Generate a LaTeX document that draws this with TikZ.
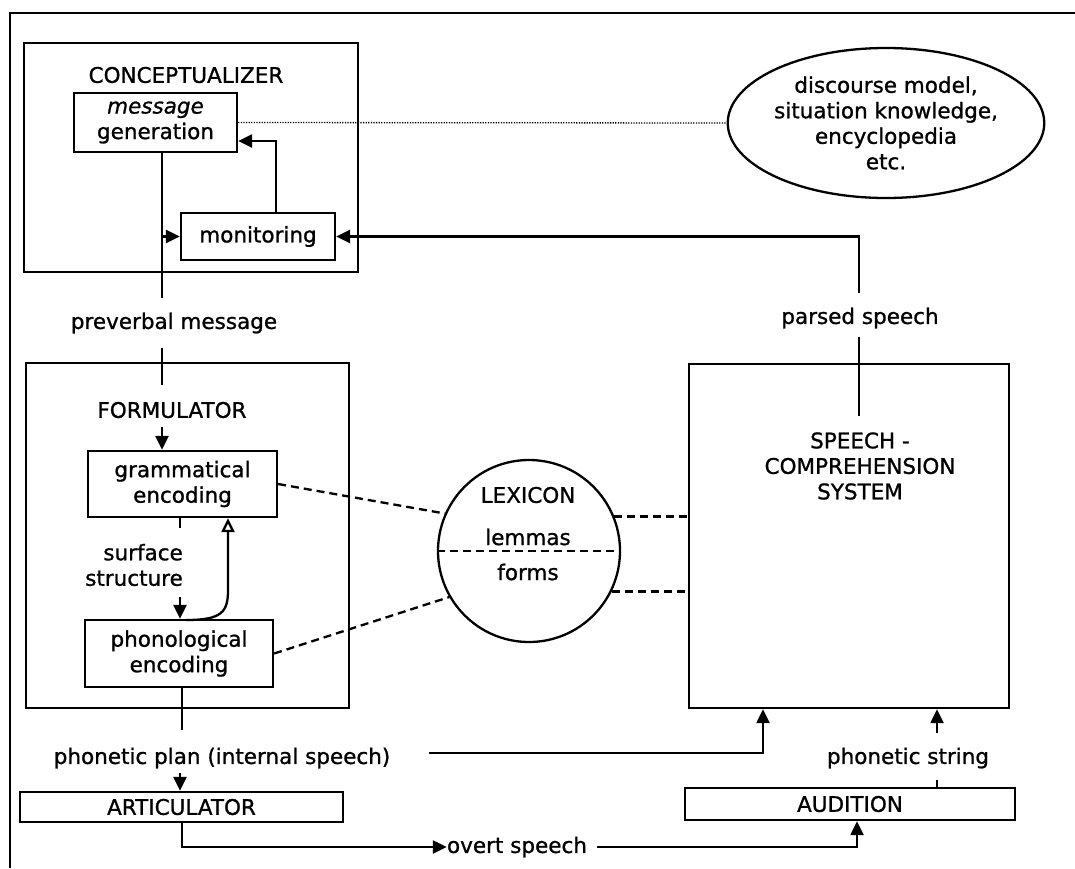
\documentclass[tikz,border=0pt]{standalone}
\usepackage{fontspec}
\setmainfont[FakeBold=1]{DejaVu Sans}
\usetikzlibrary{arrows.meta,shapes.geometric}
\begin{document}
\begin{tikzpicture}[x=1pt,y=-1pt,
  every node/.style={font=\fontsize{21.5}{25.5}\selectfont},
  box/.style={draw,line width=2.3pt,inner sep=0pt,align=center},
  lbl/.style={inner sep=0pt,align=center},
  ln/.style={line width=2.3pt},
  arr/.style={line width=2.3pt,-{Triangle[length=14pt,width=13pt]}},
  oarr/.style={line width=2.3pt,-{Triangle[open,length=14pt,width=13pt]}},
  dsh/.style={line width=2.3pt,dash pattern=on 8pt off 5pt},
  dot/.style={line width=1.3pt,dash pattern=on 1.3pt off 1.3pt}]
\useasboundingbox (0,0) rectangle (1075,868);
% outer frame (top and left visible)
\coordinate (ftr) at (1075,13);
\coordinate (ftl) at (10,13);
\coordinate (fbl) at (10,868);
\draw[line width=2.6pt] (ftr) -- (ftl) -- (fbl);

% conceptualizer
\node[box,minimum width=334pt,minimum height=229pt] (conc) at (191,157.5) {};
\node[lbl] (concl) at (186,75) {CONCEPTUALIZER};
\node[box,minimum width=163pt,minimum height=59pt] (msg) at (155.5,122.5) {\textit{message}\\generation};
\node[box,minimum width=154pt,minimum height=47pt] (mon) at (258,236.5) {monitoring};
\node[draw,ellipse,line width=2.3pt,inner sep=0pt,align=center,minimum width=276pt,minimum height=150pt] (ell) at (886,123) {discourse model,\\situation knowledge,\\encyclopedia\\etc.};
\draw[dot] (msg.east) -- (ell.west);
\coordinate (m1) at (276,141);
\draw[arr] (mon.north -| m1) -- (m1) -- (msg.east |- m1);
\coordinate (pv1) at (162,298);
\coordinate (br1) at (162,236.5);
\draw[ln] (msg.south -| pv1) -- (pv1);
\draw[arr] (br1) -- (mon.west);
\node[lbl] (pvl) at (174,323) {preverbal message};

% formulator
\node[box,minimum width=323pt,minimum height=345pt] (form) at (187.5,535.5) {};
\node[lbl] (forml) at (172,410) {FORMULATOR};
\coordinate (pv2) at (162,348);
\coordinate (pv3) at (162,385);
\draw[ln] (pv2) -- (pv3);
\node[box,minimum width=189pt,minimum height=66pt] (gram) at (182.5,484) {grammatical\\encoding};
\node[box,minimum width=188pt,minimum height=67pt] (phon) at (179,653.5) {phonological\\encoding};
\coordinate (fa) at (162,427);
\draw[arr] (fa) -- (gram.north -| fa);
\coordinate (ss1) at (180,528);
\draw[ln] (gram.south -| ss1) -- (ss1);
\node[lbl,anchor=east,align=right] (ssl) at (183,565) {surface\\structure};
\coordinate (ss2) at (180,597);
\draw[arr] (ss2) -- (phon.north -| ss2);
\coordinate (cv0) at (186,620);
\coordinate (cv1) at (228,590);
\draw[oarr] (cv0) .. controls (222,620) and (228,612) .. (cv1) -- (gram.south -| cv1);
\coordinate (pp1) at (182,730);
\draw[ln] (phon.south -| pp1) -- (pp1);
\node[lbl] (ppl) at (222,758) {phonetic plan (internal speech)};

% articulator
\node[box,minimum width=323pt,minimum height=30pt] (art) at (181.5,807) {ARTICULATOR};
\coordinate (pp2) at (180,773);
\draw[arr] (pp2) -- (art.north -| pp2);
\node[lbl] (ovl) at (517,847) {overt speech};
\coordinate (ov1) at (182,847);
\draw[arr] (art.south -| ov1) -- (ov1) -- (ovl.west);

% audition
\node[box,minimum width=330pt,minimum height=32pt] (aud) at (850,804) {AUDITION};
\coordinate (ov2) at (857,847);
\coordinate (ov0) at (597,847);
\draw[arr] (ov0) -- (ov2) -- (aud.south -| ov2);

% speech comprehension system
\node[box,minimum width=320pt,minimum height=344pt] (scs) at (849,536) {};
\node[lbl] (scsl) at (860,466) {SPEECH -\\COMPREHENSION\\SYSTEM};
\coordinate (ps1) at (937,780);
\coordinate (ps2) at (937,733);
\draw[ln] (aud.north -| ps1) -- (ps1);
\node[lbl] (psl) at (908,758) {phonetic string};
\draw[arr] (ps2) -- (scs.south -| ps2);
\coordinate (pl1) at (429,753);
\coordinate (pl2) at (763,753);
\draw[arr] (pl1) -- (pl2) -- (scs.south -| pl2);

% parsed speech feedback
\coordinate (pa1) at (859,416);
\coordinate (pa2) at (859,337);
\coordinate (pa3) at (859,293);
\coordinate (pa4) at (859,236.5);
\draw[ln] (pa1) -- (pa2);
\node[lbl] (pal) at (860,318) {parsed speech};
\draw[arr] (pa3) -- (pa4) -- (mon.east);

% lexicon
\node[draw,circle,line width=2.3pt,inner sep=0pt,minimum size=182pt] (lex) at (529,551) {};
\node[lbl] (lexl) at (528,495) {LEXICON};
\node[lbl] (lem) at (528,537) {lemmas};
\node[lbl] (frm) at (528,572) {forms};
\draw[dsh] (lex.west) -- (lex.east);
\draw[dsh] (gram.east) -- (lex.156);
\draw[dsh] (phon.east) -- (lex.210);
\draw[dsh] (lex.22) -- (lex.22 -| scs.west);
\draw[dsh] (lex.-26) -- (lex.-26 -| scs.west);
\end{tikzpicture}
\end{document}
